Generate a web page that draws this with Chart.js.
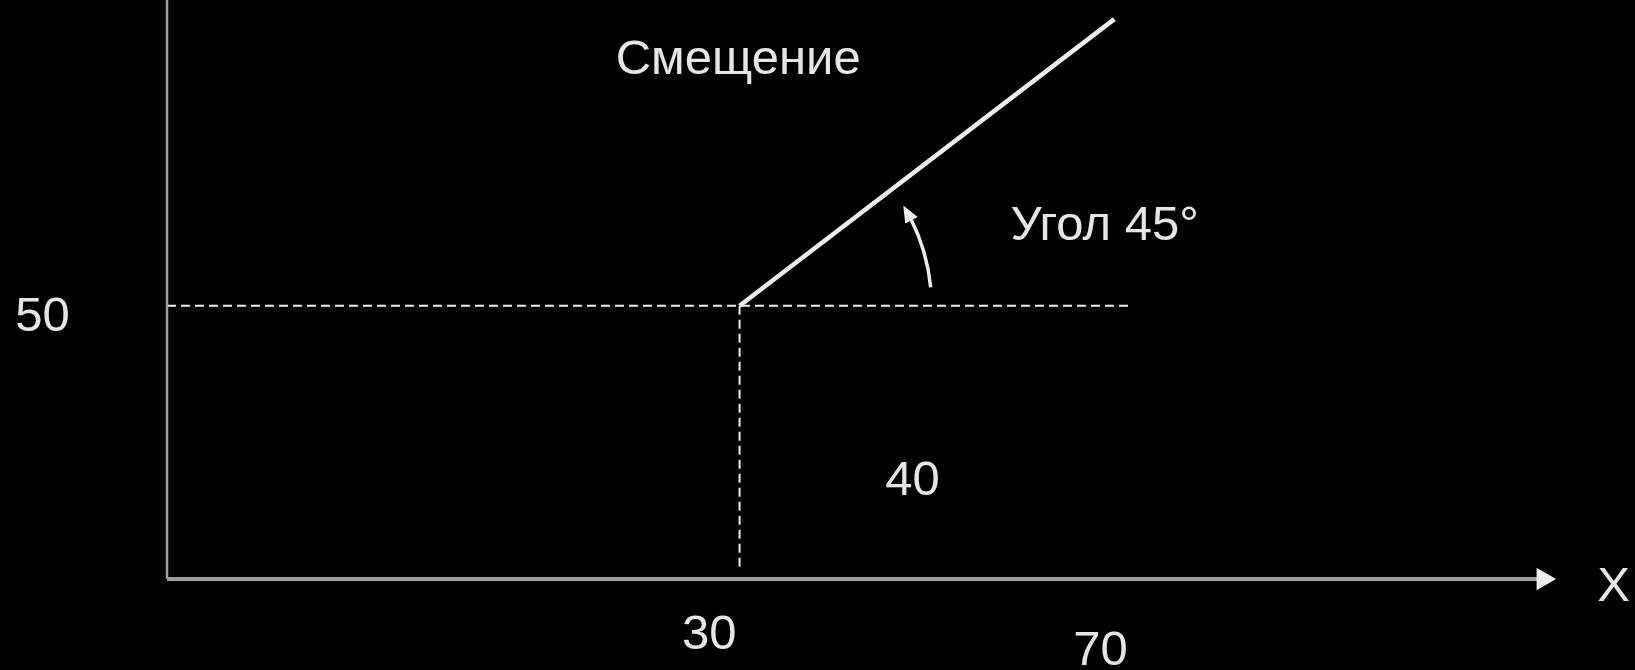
<!DOCTYPE html>
<html>
<head>
<meta charset="utf-8">
<script src="https://cdn.jsdelivr.net/npm/chart.js@4"></script>
<style>
  body { margin: 0; background: #000; }
  #wrap { width: 1635px; height: 670px; position: relative; }
</style>
</head>
<body>
<div id="wrap"><canvas id="myChart"></canvas></div>
<script>
// diagram values, in axis units (x and y both 0..100 across the plot)
var axisEndX = 99.5;      // end of x axis line (arrow)
var axisEndY = 100;       // top of y axis line
var level50 = 47.2;       // height of the "50" level
var pos30 = 41.4;         // position of the "30" point
var dashEndX = 69.7;      // end of horizontal dashed line
var dashBottomY = 1.9;    // bottom of vertical dashed line
var shiftEnd = [68.5, 96.7]; // end of the displacement line

var labelTexts = ['50', '30', '70', '40', 'Смещение', 'Угол 45°', 'X'];
var labelX = [-9.0, 39.2, 67.5, 53.9, 41.3, 67.8, 104.6];
var labelY = [45.1, -9.8, -12.6, 16.8, 89.6, 60.8, -1.4];

var white = '#eeeeee';
var grey = '#9a9a9a';

// texts and the angle arrow are drawn on top of the datasets
var labelsPlugin = {
    id: 'labels',
    afterDatasetsDraw: function(chart) {
        var c = chart.ctx;
        var sx = chart.scales.x, sy = chart.scales.y;
        c.save();
        c.fillStyle = '#e6e6e6';
        c.font = '49px "Liberation Sans", Arial, sans-serif';
        c.textAlign = 'center';
        c.textBaseline = 'middle';
        for (var i = 0; i < labelTexts.length; i++) {
            c.fillText(labelTexts[i], sx.getPixelForValue(labelX[i]), sy.getPixelForValue(labelY[i]));
        }

        // arc showing the angle, centred on the vertex
        var cx = sx.getPixelForValue(pos30), cy = sy.getPixelForValue(level50);
        var r = 192;
        var a0 = -5.5 * Math.PI / 180, a1 = -27 * Math.PI / 180, aTip = -31.5 * Math.PI / 180;
        c.strokeStyle = white;
        c.lineWidth = 3.5;
        c.beginPath();
        c.arc(cx, cy, r, a0, a1, true);
        c.stroke();
        var tipX = cx + r * Math.cos(aTip), tipY = cy + r * Math.sin(aTip);
        var bx = cx + r * Math.cos(a1 + 0.01), by = cy + r * Math.sin(a1 + 0.01);
        var nx = Math.cos(a1), ny = Math.sin(a1);
        c.fillStyle = white;
        c.beginPath();
        c.moveTo(tipX, tipY);
        c.lineTo(bx + nx * 7, by + ny * 7);
        c.lineTo(bx - nx * 7, by - ny * 7);
        c.closePath();
        c.fill();
        c.restore();
    }
};

var ctx = document.getElementById('myChart').getContext('2d');
var myChart = new Chart(ctx, {
    type: 'scatter',
    data: {
        datasets: [{
            data: [{x: 0, y: 0}, {x: 0, y: axisEndY}],
            borderColor: grey,
            borderWidth: 2.5
        }, {
            data: [{x: 0, y: 0}, {x: axisEndX, y: 0}],
            borderColor: grey,
            borderWidth: 4,
            pointRadius: [0, 9],
            pointStyle: 'triangle',
            rotation: 90,
            pointBackgroundColor: white,
            pointBorderColor: white
        }, {
            data: [{x: 0, y: level50}, {x: dashEndX, y: level50}],
            borderColor: white,
            borderWidth: 2,
            borderDash: [9, 5]
        }, {
            data: [{x: pos30, y: level50}, {x: pos30, y: dashBottomY}],
            borderColor: white,
            borderWidth: 2,
            borderDash: [9, 5]
        }, {
            data: [{x: pos30, y: level50}, {x: shiftEnd[0], y: shiftEnd[1]}],
            borderColor: white,
            borderWidth: 4.5
        }]
    },
    options: {
        responsive: true,
        maintainAspectRatio: false,
        animation: false,
        showLine: true,
        datasets: {
            scatter: { pointRadius: 0, pointHoverRadius: 0, clip: false }
        },
        layout: {
            autoPadding: false,
            padding: { left: 167, right: 85, top: 0, bottom: 91 }
        },
        plugins: {
            legend: { display: false },
            tooltip: { enabled: false }
        },
        scales: {
            x: { type: 'linear', min: 0, max: 100, display: false },
            y: { type: 'linear', min: 0, max: 100, display: false }
        }
    },
    plugins: [labelsPlugin]
});
</script>
</body>
</html>
